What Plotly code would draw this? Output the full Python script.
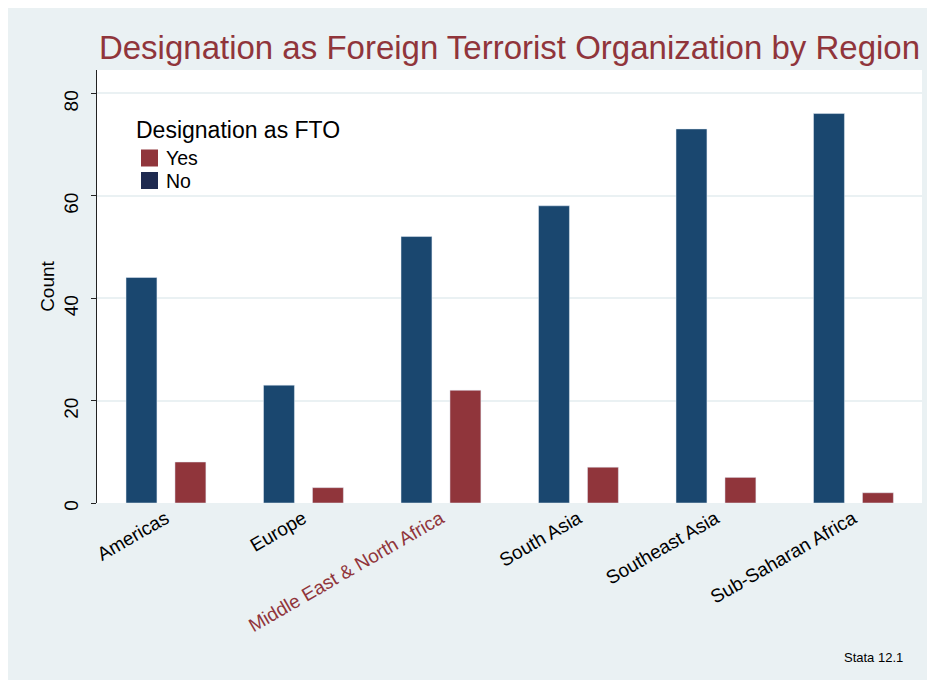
import plotly.graph_objects as go

regions = ["Americas", "Europe", "Middle East & North Africa", "South Asia",
           "Southeast Asia", "Sub-Saharan Africa"]
no_counts = [44, 23, 52, 58, 73, 76]
yes_counts = [8, 3, 22, 7, 5, 2]
y_ticks = [0, 20, 40, 60, 80]
highlight = "Middle East & North Africa"
legend_title = "Designation as FTO"
legend_labels = ["Yes", "No"]

NAVY = "#1A476F"
MAROON = "#90353B"
LEG_NAVY = "#1E2A50"
BG = "#EAF1F3"
FONT = "Liberation Sans, Arial, Helvetica, sans-serif"

OFF = 8  # page body margin
W, H = 925, 672
ML, MR, MT, MB = 89, 11, 62, 177
PW, PH = W - ML - MR, H - MT - MB


def px(x_abs):
    return (x_abs - OFF - ML) / PW


def py(y_abs):
    return (OFF + MT + PH - y_abs) / PH


tick_text = [f'<span style="color:{MAROON}">{r}</span>' if r == highlight else r
             for r in regions]

fig = go.Figure()
fig.add_trace(go.Bar(x=regions, y=no_counts, name="No", marker_color=NAVY,
                     width=0.225, offset=-0.289, showlegend=False))
fig.add_trace(go.Bar(x=regions, y=yes_counts, name="Yes", marker_color=MAROON,
                     width=0.225, offset=0.067, showlegend=False))

annotations = [
    dict(text=legend_title, xref="paper", yref="paper", x=px(134), y=py(130.5),
         xanchor="left", yanchor="middle", showarrow=False,
         font=dict(size=23, color="black")),
    dict(text="Stata 12.1", xref="paper", yref="paper",
         x=px(905), y=py(657), xanchor="right", yanchor="middle", showarrow=False,
         font=dict(size=13, color="black")),
]
shapes = []
for i, (lab, col) in enumerate(zip(legend_labels, [MAROON, LEG_NAVY])):
    top = 149.5 + 22.5 * i
    shapes.append(dict(type="rect", xref="paper", yref="paper",
                       x0=px(141), x1=px(158), y0=py(top + 17), y1=py(top),
                       fillcolor=col, line=dict(width=0)))
    annotations.append(dict(text=lab, xref="paper", yref="paper",
                            x=px(164), y=py(top + 8.5), xanchor="left", yanchor="middle",
                            showarrow=False, font=dict(size=19.5, color="black")))

fig.update_layout(
    width=W, height=H,
    margin=dict(l=ML, r=MR, t=MT, b=MB),
    paper_bgcolor=BG, plot_bgcolor="white",
    font=dict(family=FONT, color="black"),
    barmode="overlay",
    showlegend=False,
    title=dict(text="Designation as Foreign Terrorist Organization by Region",
               font=dict(size=33, color=MAROON, family=FONT),
               x=0.5, xref="paper", xanchor="center",
               y=1 - (47 - OFF) / H, yref="container", yanchor="middle"),
    xaxis=dict(type="category", categoryorder="array", categoryarray=regions,
               tickmode="array", tickvals=regions, ticktext=tick_text,
               tickangle=-30, tickfont=dict(size=19, color="black"),
               showgrid=False, zeroline=False, showline=False, ticks="",
               range=[-0.5, 5.5]),
    yaxis=dict(range=[0, 84.5], tickvals=y_ticks, tickangle=-89.9,
               tickfont=dict(size=19, color="black"), ticklabelstandoff=19,
               showline=True, linecolor="#222", linewidth=1,
               ticks="outside", ticklen=5, tickcolor="#222", tickwidth=1,
               showgrid=True, gridcolor=BG, gridwidth=2, zeroline=False,
               title=dict(text="Count", font=dict(size=19, color="black"), standoff=1)),
    annotations=annotations,
    shapes=shapes,
)

fig.write_html("out.html")
